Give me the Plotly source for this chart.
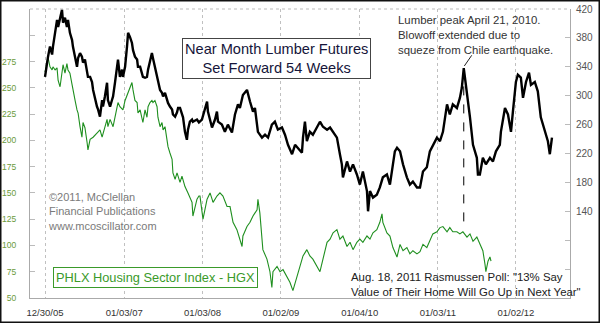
import pandas as pd
import plotly.graph_objects as go

START = pd.Timestamp("2005-12-30")

# Lumber (near month futures, set forward 54 weeks) - days after 12/30/05 and price
lumber_day = [0,9,14,23,33,37,47,56,61,70,79,84,93,102,107,116,126,130,140,149,154,163,172,177,186,196,200,210,219,224,233,242,247,256,266,270,279,289,293,303,312,317,326,335,340,349,359,363,373,382,387,396,405,410,419,429,433,443,452,456,466,475,480,489,498,503,512,522,526,536,545,550,559,568,573,582,592,596,606,615,620,629,638,643,652,661,666,675,685,689,708,717,731,745,755,759,778,792,801,806,824,838,852,871,885,899,908,922,941,955,969,978,992,1011,1025,1039,1057,1071,1085,1104,1118,1132,1151,1165,1178,1197,1202,1211,1220,1234,1248,1267,1281,1295,1314,1328,1342,1360,1374,1383,1388,1407,1421,1435,1453,1467,1481,1500,1505,1514,1528,1546,1560,1574,1593,1607,1621,1630,1640,1654,1668,1686,1700,1714,1733,1747,1761,1779,1793,1807,1826,1840,1854,1873,1886,1900,1919,1933,1942,1951,1966,1980,1994,2012,2017,2026,2040,2054,2073,2087,2101,2119,2124,2143,2157,2171,2180,2194,2203,2217,2227,2241,2255,2264,2282,2296,2310,2329,2343,2352,2362]
lumber_val = [326,346,354,368,357,368,387,405,395,409,419,401,408,395,405,387,377,368,354,340,352,359,354,346,350,336,326,326,319,308,294,285,281,271,294,285,299,318,294,285,294,299,318,340,350,326,336,326,340,368,387,381,373,363,354,350,340,340,329,326,325,326,336,346,359,352,340,326,318,308,304,299,304,294,290,285,281,274,271,277,283,283,274,270,250,239,253,264,267,264,267,263,267,283,292,278,256,267,278,264,260,250,260,249,274,288,283,301,308,292,278,283,250,242,246,242,260,264,253,256,246,232,219,232,228,221,242,264,237,250,246,256,264,257,253,256,250,242,219,205,187,209,195,205,191,177,195,168,140,168,159,163,173,187,191,177,205,223,228,223,205,187,177,181,173,173,195,201,223,232,242,237,250,288,274,288,283,297,311,338,306,270,232,214,191,191,214,205,214,209,223,232,250,283,274,250,278,319,329,325,297,319,332,315,319,306,270,250,237,219,242]

# PHLX Housing Sector Index (HGX) - days after 12/30/05 and index level
hgx_day = [0,14,23,33,37,47,56,61,70,79,84,93,102,107,116,126,130,140,149,154,163,172,177,186,196,200,210,224,242,256,266,279,289,293,303,317,335,340,349,363,373,387,396,405,410,419,429,433,443,452,456,466,475,480,489,498,503,512,522,526,536,545,550,559,568,573,582,592,596,606,615,629,638,652,666,685,689,699,708,717,722,736,755,769,783,801,815,829,848,862,876,894,908,918,922,941,955,969,988,992,1001,1011,1015,1034,1048,1057,1062,1081,1095,1109,1127,1141,1155,1174,1188,1202,1220,1234,1248,1267,1281,1295,1314,1328,1342,1360,1374,1388,1407,1421,1435,1453,1467,1481,1500,1514,1528,1546,1560,1570,1574,1593,1607,1621,1640,1654,1668,1686,1700,1714,1733,1747,1761,1779,1793,1807,1826,1840,1854,1873,1886,1900,1919,1933,1947,1966,1980,1994,2012,2026,2040,2050,2054,2064,2073,2078]
hgx_val = [265,279,270,267,270,267,269,257,251,265,272,264,273,267,264,253,248,238,229,226,213,203,217,212,198,191,201,203,207,210,203,213,220,213,220,213,229,236,232,229,238,245,251,255,248,238,236,226,229,220,217,229,222,232,236,238,236,238,232,222,213,217,210,213,201,194,188,182,169,163,169,160,166,156,150,141,128,137,144,147,147,125,144,150,141,147,150,147,137,137,122,115,106,99,109,118,122,128,134,144,131,106,96,87,75,60,75,80,75,77,71,65,57,71,80,90,96,90,87,80,75,87,103,106,112,115,106,109,99,103,96,103,106,103,109,106,112,115,122,130,122,112,109,98,89,101,95,98,92,95,92,94,101,98,104,111,113,117,118,113,117,113,113,111,113,108,111,104,108,101,95,82,75,85,89,85]

x_ticks = ["2005-12-30", "2007-01-03", "2008-01-03", "2009-01-02", "2010-01-04", "2011-01-03", "2012-01-02"]
x_tick_labels = ["12/30/05", "01/03/07", "01/03/08", "01/02/09", "01/04/10", "01/03/11", "01/02/12"]
left_ticks = [50, 75, 100, 125, 150, 175, 200, 225, 250, 275, 300]
left_labels = ["50", "75", "100", "125", "150", "175", "200", "225", "250", "275", ""]
right_ticks = [60, 100, 140, 180, 220, 260, 300, 340, 380, 420]
right_labels = ["", "", "140", "180", "220", "260", "300", "340", "380", "420"]

lumber_dates = START + pd.to_timedelta(lumber_day, unit="D")
hgx_dates = START + pd.to_timedelta(hgx_day, unit="D")

FONT = "Arial, Liberation Sans, sans-serif"
GREEN = "#1f8f1f"
GREEN_TXT = "#3a9a2a"

fig = go.Figure()
fig.add_trace(go.Scatter(x=hgx_dates, y=hgx_val, mode="lines",
                         line=dict(color=GREEN, width=1.1), yaxis="y", showlegend=False))
fig.add_trace(go.Scatter(x=lumber_dates, y=lumber_val, mode="lines",
                         line=dict(color="black", width=2.4), yaxis="y2", showlegend=False))

# April 2010 lumber peak (plotted 54 weeks forward, in 2011)
late = [i for i, d in enumerate(lumber_day) if d > 1800 and d < 2100]
pk = max(late, key=lambda i: lumber_val[i])
pk_date = lumber_dates[pk]
fig.add_shape(type="line", xref="x", yref="y2", x0=pk_date, x1=pk_date,
              y0=126, y1=lumber_val[pk] - 6, line=dict(color="black", width=1, dash="dash"))
fig.add_annotation(x=pk_date, y=lumber_val[pk] + 2, xref="x", yref="y2", text="",
                   showarrow=True, arrowhead=0, arrowwidth=1, arrowcolor="#222",
                   ax=9, ay=-13, standoff=1)

# frame
fig.add_shape(type="line", xref="paper", yref="paper", x0=0, x1=1, y0=1, y1=1,
              line=dict(color="#bbbbbb", width=1, dash="dot"))
fig.add_shape(type="rect", xref="paper", yref="paper",
              x0=-29.5 / 540, x1=1 + 29.5 / 540, y0=-24.5 / 289, y1=1 + 8.5 / 289,
              line=dict(color="#111111", width=2))

def px_x(p):
    return (p - 30) / 540

def px_y(p):
    return (298 - p) / 289

fig.add_annotation(xref="paper", yref="paper", x=px_x(276), y=px_y(58.5),
                   xanchor="center", yanchor="middle", showarrow=False,
                   text="Near Month Lumber Futures<br>Set Forward 54 Weeks",
                   font=dict(family=FONT, size=14.6, color="#15153a"),
                   bgcolor="white", bordercolor="#444444", borderwidth=1, borderpad=2)
fig.add_annotation(xref="paper", yref="paper", x=px_x(46), y=px_y(189),
                   xanchor="left", yanchor="top", showarrow=False, align="left",
                   text="©2011, McClellan<br>Financial Publications<br>www.mcoscillator.com",
                   font=dict(family=FONT, size=11, color="#7a7a7a"))
fig.add_annotation(xref="paper", yref="paper", x=px_x(155.5), y=px_y(277),
                   xanchor="center", yanchor="middle", showarrow=False,
                   text="PHLX Housing Sector Index - HGX",
                   font=dict(family=FONT, size=12.8, color=GREEN_TXT),
                   bgcolor="white", bordercolor=GREEN_TXT, borderwidth=1, borderpad=2)
fig.add_annotation(xref="paper", yref="paper", x=px_x(396), y=px_y(12),
                   xanchor="left", yanchor="top", showarrow=False, align="left",
                   text="Lumber peak April 21, 2010.<br>Blowoff extended due to<br>squeze from Chile earthquake.",
                   font=dict(family=FONT, size=11.4, color="#333333"))
fig.add_annotation(xref="paper", yref="paper", x=px_x(349), y=px_y(269),
                   xanchor="left", yanchor="top", showarrow=False, align="left",
                   text="Aug. 18, 2011 Rasmussen Poll: \"13% Say<br>Value of Their Home Will Go Up in Next Year\"",
                   font=dict(family=FONT, size=11.4, color="#222222"))

fig.update_layout(
    width=600, height=323,
    margin=dict(l=30, r=30, t=9, b=25, autoexpand=False),
    paper_bgcolor="white", plot_bgcolor="white",
    showlegend=False,
    xaxis=dict(type="date", range=["2005-10-21", "2012-09-10"], automargin=False,
               tickvals=x_ticks, ticktext=x_tick_labels, ticks="",
               showgrid=True, gridcolor="#c0c0c0", griddash="dot", gridwidth=1,
               showline=True, linecolor="#aaaaaa", linewidth=1,
               tickfont=dict(family=FONT, size=9.5, color="#333333"),
               ticklabelstandoff=6, zeroline=False),
    yaxis=dict(range=[50, 325], tickvals=left_ticks, ticktext=left_labels, automargin=False,
               ticks="inside", ticklen=5, tickcolor="#bbbbbb",
               showgrid=False, zeroline=False,
               showline=True, linecolor="#aaaaaa", linewidth=1,
               tickfont=dict(family=FONT, size=8.5, color="#6a9a3a"),
               ticklabelstandoff=11),
    yaxis2=dict(range=[20, 420], tickvals=right_ticks, ticktext=right_labels, automargin=False,
                overlaying="y", side="right",
                ticks="inside", ticklen=5, tickcolor="#bbbbbb",
                showgrid=False, zeroline=False,
                showline=True, linecolor="#aaaaaa", linewidth=1,
                tickfont=dict(family=FONT, size=10, color="#555555"),
                ticklabelstandoff=3),
)

fig.write_html("out.html")
